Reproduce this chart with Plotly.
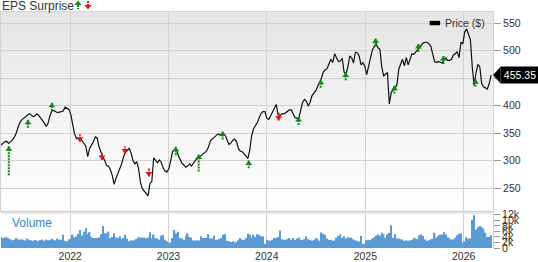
import plotly.graph_objects as go
import pandas as pd

# ---------------- data ----------------
week_start = "2021-04-19"

price = [
    328, 331, 334, 335, 331, 334, 337, 342, 349, 360,
    369, 374, 377, 380, 383, 385, 383, 380, 381, 385,
    382, 378, 374, 368, 362, 368, 382, 390, 391, 389,
    387, 388, 389, 390, 397, 395, 393, 384, 367, 349,
    340, 339, 341, 336, 332, 326, 307, 322, 328, 334,
    343, 341, 325, 315, 307, 300, 291, 290, 284, 273,
    257, 268, 277, 285, 294, 307, 315, 318, 322, 314,
    300, 294, 298, 285, 260, 249, 244, 240, 236, 258,
    262, 305, 300, 296, 301, 297, 287, 281, 279, 285,
    300, 316, 319, 320, 310, 302, 295, 292, 288, 290,
    294, 290, 296, 300, 303, 306, 309, 312, 314, 317,
    324, 335, 339, 342, 345, 348, 347, 347, 349, 346,
    337, 329, 332, 337, 339, 334, 321, 317, 316, 312,
    308, 304, 320, 346, 358, 364, 369, 378, 386, 389,
    389, 377, 375, 381, 389, 396, 402, 383, 382, 385,
    385, 387, 389, 392, 392, 384, 378, 377, 377, 392,
    406, 411, 408, 399, 406, 418, 423, 427, 435, 441,
    450, 461, 465, 467, 476, 484, 478, 494, 487, 480,
    481, 486, 461, 457, 470, 490, 487, 477, 497, 496,
    490, 474, 478, 471, 456, 471, 489, 501, 507, 512,
    505, 502, 470, 454, 457, 460, 403, 424, 428, 432,
    437, 466, 476, 484, 472, 487, 474, 484, 494, 493,
    497, 503, 507, 511, 514, 515, 515, 512, 508, 494,
    480, 478, 480, 479, 477, 483, 486, 482, 482, 484,
    492, 494, 498, 487, 515, 512, 534, 539, 530, 520,
    470, 436, 460, 475, 470, 440, 434, 432, 430, 440,
    455.35,
]

volume_k = [
    4.0, 3.6, 3.8, 3.9, 3.5, 3.2, 2.8, 3.0, 3.6, 3.2, 3.0,
    3.2, 2.9, 2.7, 3.4, 3.0, 2.8, 2.6, 2.9, 2.7, 2.5, 2.9, 3.0, 2.6, 3.1, 2.8, 3.0, 3.3, 2.9, 2.7, 3.4, 3.0,
    3.0, 4.8, 2.6, 2.4, 3.2,
    3.4, 4.8, 3.8, 4.2, 5.1, 6.5, 4.5, 5.9, 7.1, 5.0, 5.7, 4.0, 3.6, 3.6, 3.6, 3.8, 5.0,
    7.9, 5.3, 5.3, 5.9, 3.6, 4.0, 5.3, 3.8, 3.6,
    4.2, 3.2, 3.6, 4.8, 3.4, 2.4, 2.8, 2.7, 3.0, 3.2, 3.8, 3.8, 3.7, 3.8, 3.5, 3.8, 5.7, 3.5,
    4.8, 3.6, 3.4, 3.0, 4.4, 4.8, 3.0,
    2.4, 1.9, 2.0, 3.6,
    6.5, 5.3, 5.9, 3.6, 3.4, 3.0, 4.4, 5.3, 4.0, 3.8, 2.7, 2.7, 2.8, 2.7, 4.2, 3.6, 3.6, 3.7, 5.0, 3.5,
    3.4, 4.4, 3.0, 3.0, 3.2, 3.6, 4.8, 5.0, 2.6, 2.4, 2.2, 2.4, 2.0, 2.2, 2.8, 3.6, 3.0, 3.0, 3.6, 5.1,
    4.8, 3.6, 4.8, 4.0, 5.0, 4.8, 4.2, 4.2, 1.5, 3.0, 2.7, 2.6, 3.0, 3.6, 3.6, 4.0, 6.3, 3.2, 3.0, 2.8,
    3.2, 3.6, 3.0, 3.6, 3.0, 3.4, 3.8, 3.0, 2.9, 3.2, 4.2, 3.2, 2.9, 2.6, 3.0, 3.6, 3.2, 2.6, 5.6, 5.1,
    4.8, 3.4, 3.0, 3.0, 2.6, 2.7,
    3.7, 4.3, 4.9, 3.7, 4.3, 3.4, 3.9, 3.7, 3.7, 3.1, 2.8, 2.6, 2.3, 4.3, 1.5, 1.5, 2.8, 3.0, 2.8, 3.4,
    3.9, 4.5, 4.9, 4.5, 5.5, 4.9, 3.7, 4.9, 5.5, 8.2, 3.7, 5.0, 3.4, 3.4, 3.2, 3.0, 2.6, 2.8, 2.6, 2.8,
    3.0, 3.7, 3.4, 3.2, 4.6, 4.9, 4.3, 3.1, 2.6, 2.8, 3.1, 3.3, 5.5, 3.7, 4.4, 4.9, 4.9, 5.7, 4.9, 3.9,
    3.4, 3.1, 3.1, 3.7, 4.6, 5.2, 5.2, 1.9, 2.4, 3.9, 3.3, 3.5, 10.2, 11.8, 6.7, 7.5, 7.9, 7.6, 7.0, 5.5,
    4.0, 4.0, 4.6,
]

# EPS surprise arrows: date, beat(1)/miss(0), arrow-head tip level, stem end level
eps_dates = ["2021-05-18", "2021-07-28", "2021-10-25", "2022-02-06", "2022-04-29",
             "2022-07-23", "2022-10-20", "2023-01-28", "2023-04-23", "2023-07-21",
             "2023-10-26", "2024-02-14", "2024-04-28", "2024-07-19", "2024-10-20",
             "2025-02-08", "2025-04-19", "2025-07-17", "2025-10-18", "2026-02-14"]
eps_beat = [1, 1, 1, 0, 0, 0, 0, 1, 1, 1, 1, 0, 1, 1, 1, 1, 1, 1, 1, 1]
eps_head = [326, 374, 405, 334, 301, 313, 271, 325, 311, 353,
            300, 373, 379, 447, 460, 522, 436, 512, 490, 448]
eps_tail = [273, 359, 389, 348, 314, 326, 286, 308, 279, 338,
            286, 387, 364, 432, 446, 507, 422, 497, 475, 434]

price_ticks = [250, 300, 350, 400, 450, 500, 550]
volume_ticks = [0, 2000, 4000, 6000, 8000, 10000, 12000]
year_ticks = ["2022-01-01", "2023-01-01", "2024-01-01", "2025-01-01", "2026-01-01"]
year_labels = ["2022", "2023", "2024", "2025", "2026"]
x_range = ["2021-04-19", "2026-04-20"]
price_range = [208, 570]
volume_range = [0, 12600]

# ---------------- styling ----------------
FONT = "Liberation Sans, Arial, sans-serif"
GRID = "#d2d2d2"
TXT = "#333333"
GREEN = "#138a13"
RED = "#ee1111"
W, H = 538, 262
ML, MR, MT, MB = 0, 45, 12, 10
PW, PH = W - ML - MR, H - MT - MB
price_dom = [0.156, 1.0]
vol_dom = [0.0, 0.148]

n = min(len(price), len(volume_k))
dates = pd.date_range(week_start, periods=n, freq="7D")
volume = [v * 1000 for v in volume_k[:n]]
last = price[n - 1]

# price tick labels; the one hidden behind the last-price callout is left blank
price_ticktext = ["" if abs(t - last) < 12 else str(t) for t in price_ticks]

fig = go.Figure()
fig.add_trace(go.Bar(x=dates, y=volume, xaxis="x", yaxis="y",
                     marker=dict(color="#5b9bd5", line=dict(width=0)),
                     hoverinfo="skip"))
fig.add_trace(go.Scatter(x=dates, y=price[:n], xaxis="x2", yaxis="y2", mode="lines",
                         line=dict(color="#111111", width=1.2), hoverinfo="skip"))

shapes = []
# gradient background of price panel
N = 40
for i in range(N):
    f0 = i / N
    f1 = (i + 1) / N
    c = int(round(255 - (255 - 229) * (f0 + f1) / 2))
    y0 = price_dom[0] + (price_dom[1] - price_dom[0]) * f0
    y1 = price_dom[0] + (price_dom[1] - price_dom[0]) * f1 + 0.002
    shapes.append(dict(type="rect", xref="paper", yref="paper", x0=0, x1=1, y0=y0, y1=min(y1, 1),
                       fillcolor=f"rgb({c},{c},{c})", line=dict(width=0), layer="below"))
# separator band between panels
sep = (price_dom[0] + vol_dom[1]) / 2
shapes.append(dict(type="line", xref="paper", yref="paper", x0=0, x1=1, y0=sep, y1=sep,
                   line=dict(color="#e2e2e2", width=3), layer="below"))

# EPS arrows
for d, b, hd, tl in zip(eps_dates, eps_beat, eps_head, eps_tail):
    col = GREEN if b else RED
    shapes.append(dict(type="line", xref="x2", yref="y2", x0=d, x1=d, y0=hd, y1=tl,
                       line=dict(color=col, width=2, dash="2px,1px")))
    path = "M0,0 L3.5,-4.5 L-3.5,-4.5 Z" if b else "M0,0 L3.5,4.5 L-3.5,4.5 Z"
    shapes.append(dict(type="path", xref="x2", yref="y2", xsizemode="pixel", ysizemode="pixel",
                       xanchor=d, yanchor=hd, path=path, fillcolor=col, line=dict(width=0)))

# last price callout pointer
shapes.append(dict(type="path", xref="paper", yref="y2", xsizemode="pixel", ysizemode="pixel",
                   xanchor=1, yanchor=last, path="M0,0 L7.5,8.3 L7.5,-8.3 Z",
                   fillcolor="#000000", line=dict(width=0)))

# header icons (EPS surprise legend) in pixel space relative to top-left of plot
def hdr_shape(path, col):
    return dict(type="path", xref="paper", yref="paper", xsizemode="pixel", ysizemode="pixel",
                xanchor=0, yanchor=1, path=path, fillcolor=col, line=dict(width=0))

shapes.append(dict(type="path", xref="paper", yref="paper", xsizemode="pixel", ysizemode="pixel",
                   xanchor=0, yanchor=1, path="M77,7 L77,3", line=dict(color=GREEN, width=2, dash="2px,1px")))
shapes.append(hdr_shape("M77,11.5 L80.5,7 L73.5,7 Z", GREEN))
shapes.append(dict(type="path", xref="paper", yref="paper", xsizemode="pixel", ysizemode="pixel",
                   xanchor=0, yanchor=1, path="M87,11 L87,7", line=dict(color=RED, width=2, dash="2px,1px")))
shapes.append(hdr_shape("M87,2.5 L90.5,7 L83.5,7 Z", RED))

# price legend swatch
shapes.append(dict(type="rect", xref="paper", yref="paper",
                   x0=429.5 / PW, x1=440 / PW, y0=(PH + MT - 25.5) / PH, y1=(PH + MT - 21) / PH,
                   fillcolor="#000000", line=dict(width=0)))

annotations = [
    dict(text="EPS Surprise", xref="paper", yref="paper", x=0, y=1 + MT / PH, xanchor="left",
         yanchor="top", showarrow=False, font=dict(family=FONT, size=12, color=TXT), borderpad=0, yshift=2),
    dict(text="Price ($)", xref="paper", yref="paper", x=444 / PW, y=(PH + MT - 23.5) / PH,
         xanchor="left", yanchor="middle", showarrow=False,
         font=dict(family=FONT, size=10.5, color=TXT), borderpad=0),
    dict(text="Volume", xref="paper", yref="paper", x=10 / PW, y=(PH + MT - 227) / PH,
         xanchor="left", yanchor="middle", showarrow=False,
         font=dict(family=FONT, size=12, color="#3a86c8"), borderpad=0),
    dict(text=f"{last:.2f}", xref="paper", yref="y2", x=1, y=last, xanchor="left", yanchor="middle",
         xshift=7, showarrow=False, bgcolor="#000000", width=38, height=16, borderpad=0,
         font=dict(family=FONT, size=10.5, color="#ffffff"), align="center"),
]

fig.update_layout(
    width=W, height=H, margin=dict(l=ML, r=MR, t=MT, b=MB, pad=0),
    paper_bgcolor="#ffffff", plot_bgcolor="rgba(0,0,0,0)",
    showlegend=False, bargap=0.22,
    font=dict(family=FONT, size=10, color=TXT),
    shapes=shapes, annotations=annotations,
    xaxis=dict(domain=[0, 1], anchor="y", range=x_range, type="date",
               tickvals=year_ticks, ticktext=year_labels, showgrid=True, gridcolor=GRID,
               gridwidth=1, ticks="", zeroline=False, showline=False,
               tickfont=dict(family=FONT, size=10.5, color=TXT)),
    yaxis=dict(domain=vol_dom, anchor="x", side="right", range=volume_range,
               tickvals=volume_ticks, tickformat="~s", showgrid=False, zeroline=False,
               ticks="outside", ticklen=6, tickcolor="#999999", showline=True, linecolor=GRID,
               tickfont=dict(family=FONT, size=10.5, color=TXT)),
    xaxis2=dict(domain=[0, 1], anchor="y2", matches="x", type="date", showticklabels=False,
                tickvals=year_ticks, showgrid=True, gridcolor=GRID, ticks="", zeroline=False,
                showline=True, mirror=True, linecolor=GRID),
    yaxis2=dict(domain=price_dom, anchor="x2", side="right", range=price_range,
                tickvals=price_ticks, ticktext=price_ticktext, showgrid=True, gridcolor=GRID,
                zeroline=False, ticks="outside", ticklen=7, tickcolor="#999999", showline=True,
                mirror=True, linecolor=GRID, tickfont=dict(family=FONT, size=10.5, color=TXT)),
)

fig.write_html("out.html", config={"displayModeBar": False})
